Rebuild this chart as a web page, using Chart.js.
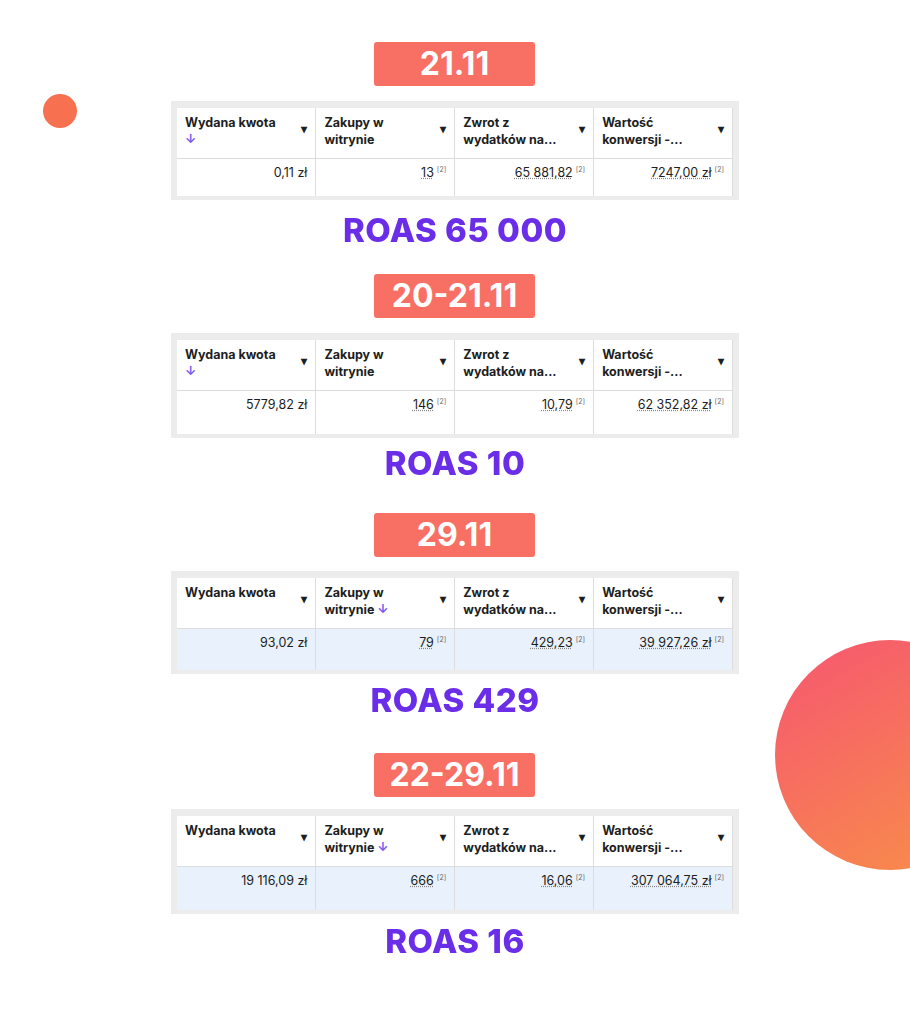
<!DOCTYPE html>
<html><head><meta charset="utf-8">
<script src="https://cdn.jsdelivr.net/npm/chart.js@4"></script>
<style>
body{margin:0;width:910px;height:1024px;position:relative;overflow:hidden;background:#fff;font-family:Inter,"Noto Sans",sans-serif}
#bg{position:absolute;left:0;top:0;width:910px;height:1024px}
.lbl{position:absolute;left:374px;width:161px;height:44px;background:#f87063;color:#fff;font:bold 32px Inter,sans-serif;text-align:center;line-height:44px;border-radius:3px}
.tbl{position:absolute;left:171px;width:568px;background:#ececec;padding:7px 6px 6px 6px;box-sizing:border-box}
.tbl table{border-collapse:collapse;width:100%;table-layout:fixed;background:#fff}
.tbl th{height:44px;text-align:left;vertical-align:top;font-size:12.5px;font-weight:700;color:#1c1e21;padding:6px 8px 0 8px;border-right:1px solid #ddd;border-bottom:1px solid #ddd;position:relative;line-height:17px}
.tbl th:after{content:"▾";position:absolute;right:8px;top:12px;font-size:12px}
.tbl td{text-align:right;vertical-align:top;font-size:12.5px;color:#1c1e21;padding:6px 8px 0 8px;border-right:1px solid #ddd}
.tbl sup{font-size:7px;color:#666;margin-left:3px}
.u{text-decoration:underline dotted #888}
.arr{color:#7a5cf0}
.roas{position:absolute;left:0;width:910px;text-align:center;color:#6a2ee8;font:800 33px Inter,sans-serif;letter-spacing:0.5px}
</style></head><body>
<canvas id="bg" width="910" height="1024"></canvas>
<div id="root"></div>
<script>
const dates = ['21.11', '20-21.11', '29.11', '22-29.11'];
const spent = ['0,11 zł', '5779,82 zł', '93,02 zł', '19 116,09 zł'];
const purchases = ['13', '146', '79', '666'];
const returnRate = ['65 881,82', '10,79', '429,23', '16,06'];
const convValue = ['7247,00 zł', '62 352,82 zł', '39 927,26 zł', '307 064,75 zł'];
const roas = ['ROAS 65 000', 'ROAS 10', 'ROAS 429', 'ROAS 16'];
const sortCol = [0, 0, 1, 1];
const highlight = [false, false, true, true];

// decorative circles: x, y, radius
const circleX = [60, 890];
const circleY = [111, 755];
const circleR = [17, 115];

const labelTop = [42, 274, 513, 753];
const tableTop = [101, 333, 571, 809];
const tableH = [99, 105, 103, 105];
const roasTop = [210, 443, 680, 921];

const root = document.getElementById('root');
dates.forEach((d, i) => {
  const heads = ['Wydana kwota', 'Zakupy w<br>witrynie', 'Zwrot z<br>wydatków na...', 'Wartość<br>konwersji -...'];
  const ths = heads.map((h, c) => {
    let t = h;
    if (c === sortCol[i]) t += (c === 0 ? '<br>' : ' ') + '<span class="arr">↓</span>';
    return `<th>${t}</th>`;
  }).join('');
  const bg = highlight[i] ? 'background:#e8f1fc' : '';
  const h = tableH[i];
  root.insertAdjacentHTML('beforeend', `
    <div class="lbl" style="top:${labelTop[i]}px">${d}</div>
    <div class="tbl" style="top:${tableTop[i]}px;height:${h}px"><table>
      <tr>${ths}</tr>
      <tr style="${bg};height:${h - 62}px"><td>${spent[i]}</td>
      <td><span class="u">${purchases[i]}</span><sup>[2]</sup></td>
      <td><span class="u">${returnRate[i]}</span><sup>[2]</sup></td>
      <td><span class="u">${convValue[i]}</span><sup>[2]</sup></td></tr>
    </table></div>
    <div class="roas" style="top:${roasTop[i]}px">${roas[i]}</div>`);
});

const ctx = document.getElementById('bg').getContext('2d');
function fill(c) {
  if (c.dataIndex === 0) return '#f7704f';
  const g = c.chart.ctx.createLinearGradient(800, 650, 930, 870);
  g.addColorStop(0, '#f65a6e');
  g.addColorStop(1, '#f88a4c');
  return g;
}
new Chart(ctx, {
  type: 'bubble',
  data: {
    datasets: [{
      data: circleX.map((x, i) => ({ x: x, y: circleY[i], r: circleR[i] })),
      backgroundColor: fill,
      borderWidth: 0
    }]
  },
  options: {
    responsive: false, animation: false, clip: false,
    layout: { padding: 0, autoPadding: false },
    plugins: { legend: { display: false }, tooltip: { enabled: false } },
    scales: {
      x: { display: false, min: 0, max: 910 },
      y: { display: false, min: 0, max: 1024, reverse: true }
    }
  }
});
</script>
</body></html>
